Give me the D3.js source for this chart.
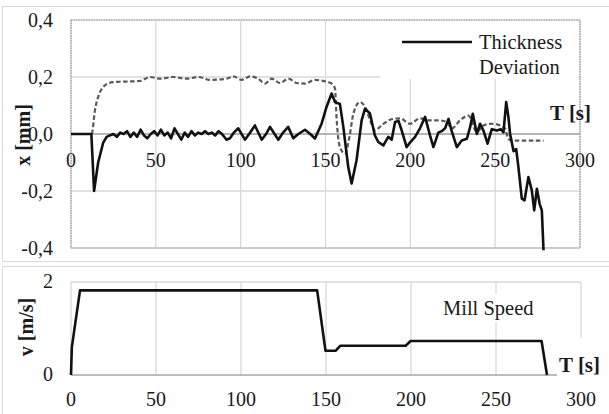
<!DOCTYPE html>
<html>
<head>
	<meta charset="utf-8">
	<title>Thickness Deviation and Mill Speed</title>
	<style type="text/css">
		body{ margin:0; background:#fff; }
		svg text{ font-family:'Liberation Serif', 'Times New Roman', 'DejaVu Serif', serif; fill:#1a1a1a; }
	</style>
</head>
<body>
	<svg width=609 height=414 class="chart"></svg>
	<script type="text/javascript" src="https://cdn.jsdelivr.net/npm/d3@7/dist/d3.min.js"></script>
	<script type="text/javascript">

		// thickness deviation (solid)
		devTime = [0, 12, 13.6, 16, 19, 21, 23, 25, 27, 29, 31, 33, 35, 37, 39, 41, 43, 45, 47, 49, 51, 53, 55, 57, 59, 61, 63, 65, 67, 69, 71, 73, 75, 77, 79, 81, 83, 85, 87, 89, 91.7, 93.7, 96, 98.6, 102.5, 105, 108.4, 112.4, 115, 117.3, 120, 122.2, 125, 128, 131, 134, 137.9, 141, 143.8, 147.7, 150.6, 153.6, 155.6, 158.5, 160.5, 163.4, 165.4, 168.3, 171.3, 173.3, 176.2, 179.1, 181.1, 184.1, 187, 189, 191, 193, 194.9, 197.8, 199.8, 202.8, 205.7, 208.7, 211.6, 213.6, 216.5, 218.5, 220.5, 222.5, 224.4, 227.4, 230.3, 233.3, 235.2, 236.8, 239.2, 241.1, 243.1, 245.5, 248, 251, 253.3, 254.9, 256.5, 257.8, 258.8, 260.8, 262.4, 263.7, 265.7, 267.3, 269.6, 271.6, 273, 274.6, 276.2, 277.5, 278.5]
		devValue = [0, 0, -0.2, -0.1, -0.03, -0.01, -0.005, 0, -0.01, 0.005, 0, 0.01, -0.01, 0.005, -0.01, 0.015, -0.005, -0.015, 0, 0.01, -0.005, 0.015, -0.005, 0.005, -0.015, 0.02, 0, -0.02, 0.005, -0.01, 0.01, -0.005, 0.005, 0, 0.01, 0, 0.005, -0.005, 0.01, 0, -0.02, -0.015, 0.005, 0.02, -0.02, 0, 0.03, -0.02, 0, 0.025, 0, -0.02, 0.005, 0.025, -0.015, 0, 0.015, 0, -0.016, 0.036, 0.095, 0.142, 0.112, 0.105, 0.025, -0.116, -0.174, -0.092, 0.048, 0.089, 0.072, -0.005, -0.028, -0.04, -0.01, -0.02, 0.042, 0.046, 0.013, -0.046, -0.03, -0.01, 0.02, 0.06, -0.005, -0.046, 0.005, 0.01, 0.02, 0.053, 0.01, -0.046, -0.023, -0.017, 0.023, 0.071, 0, 0.036, 0.012, -0.034, 0.017, 0.012, 0.017, 0.006, 0.112, 0.06, 0, -0.06, -0.053, -0.116, -0.227, -0.233, -0.151, -0.198, -0.268, -0.192, -0.245, -0.268, -0.408]

		// second (dashed) curve
		refTime = [0, 12.2, 14.1, 17.1, 20, 24.9, 32.7, 40.6, 46.5, 52.4, 60.3, 68.1, 75, 81.9, 91.7, 95.7, 100.6, 105.5, 110.4, 114.4, 118.3, 123.2, 128.1, 133, 137.9, 143.8, 146.7, 153.6, 155.6, 156.6, 158.5, 161.5, 164.4, 166.4, 170.3, 173.3, 176.2, 179.1, 183, 188, 194, 199.8, 205.7, 210.6, 216.5, 221.5, 224.4, 229.3, 234.2, 239.2, 243.1, 248, 252.9, 255.9, 257.8, 260.8, 278.5]
		refValue = [0, 0, 0.083, 0.147, 0.171, 0.182, 0.184, 0.186, 0.2, 0.194, 0.2, 0.194, 0.2, 0.19, 0.194, 0.202, 0.19, 0.202, 0.194, 0.177, 0.194, 0.179, 0.194, 0.179, 0.177, 0.19, 0.188, 0.177, 0.159, 0.048, -0.046, -0.069, 0, 0.071, 0.112, 0.095, 0.05, 0.013, 0.03, 0.05, 0.055, 0.036, 0.055, 0.048, 0.048, 0.042, 0.019, 0.048, 0.065, 0.007, 0.03, 0.036, 0.03, 0.019, -0.018, -0.023, -0.023]

		// mill speed
		speedTime = [0, 0.5, 5.3, 144.8, 149.7, 155.6, 158.5, 196.8, 199.8, 276.8, 280]
		speedValue = [0, 0.6, 1.82, 1.82, 0.52, 0.52, 0.63, 0.63, 0.73, 0.73, 0]

		timeTicks = [0, 50, 100, 150, 200, 250, 300]
		devTicks = [-0.4, -0.2, 0, 0.2, 0.4]
		speedTicks = [0, 2]

		serif = "'Liberation Serif', 'Times New Roman', 'DejaVu Serif', serif"
		svg = d3.select('.chart').attr('font-family', serif)
		comma = function(d) { return (d < 0 ? '-' : '') + d3.format('.1f')(Math.abs(d)).replace('.', ',') }

		// outer frames
		svg.append('rect').attr('x', 2.5).attr('y', 6.5).attr('width', 620).attr('height', 255)
			.attr('fill', 'none').attr('stroke', '#d9d9d9')
		svg.append('rect').attr('x', 2.5).attr('y', 266.5).attr('width', 620).attr('height', 160)
			.attr('fill', 'none').attr('stroke', '#d9d9d9')

		// ---------- top chart ----------
		x1 = d3.scaleLinear().domain([0, 300]).range([71, 580])
		y1 = d3.scaleLinear().domain([-0.4, 0.4]).range([248, 20])

		top_g = svg.append('g')

		top_g.append('g').selectAll('line').data(timeTicks).enter().append('line')
			.attr('x1', function(d) {return x1(d)}).attr('x2', function(d) {return x1(d)})
			.attr('y1', y1(0.4)).attr('y2', y1(-0.4))
			.attr('stroke', '#d9d9d9').attr('stroke-width', 1.3)
		top_g.append('g').selectAll('line').data(devTicks).enter().append('line')
			.attr('x1', x1(0)).attr('x2', x1(300))
			.attr('y1', function(d) {return y1(d)}).attr('y2', function(d) {return y1(d)})
			.attr('stroke', '#d9d9d9').attr('stroke-width', 1.3)

		// legend box hides grid behind it
		top_g.append('rect').attr('x', 380).attr('y', 21).attr('width', 198).attr('height', 58).attr('fill', '#fff')

		top_g.append('line').attr('x1', x1(0)).attr('x2', x1(300)).attr('y1', y1(0)).attr('y2', y1(0))
			.attr('stroke', '#a6a6a6').attr('stroke-width', 1.3)

		top_g.append('rect').attr('x', x1(0)).attr('y', y1(0.4))
			.attr('width', x1(300) - x1(0)).attr('height', y1(-0.4) - y1(0.4))
			.attr('fill', 'none').attr('stroke', '#9a9a9a').attr('stroke-width', 1.2).attr('stroke-dasharray', '1.5,1')

		top_g.append('g').selectAll('text').data(devTicks).enter().append('text')
			.attr('x', 53).attr('y', function(d) {return y1(d) + 7})
			.attr('text-anchor', 'end').attr('font-size', 20)
			.text(comma)
		top_g.append('g').selectAll('text').data(timeTicks).enter().append('text')
			.attr('x', function(d) {return x1(d)}).attr('y', 167)
			.attr('text-anchor', 'middle').attr('font-size', 20)
			.text(function(d) {return d})

		lineTop = d3.line().x(function(d) {return x1(d[0])}).y(function(d) {return y1(d[1])})

		top_g.append('path').datum(d3.zip(refTime, refValue))
			.attr('d', lineTop.curve(d3.curveMonotoneX))
			.attr('fill', 'none').attr('stroke', '#595959').attr('stroke-width', 2.2).attr('stroke-dasharray', '4.5,2.5')
		top_g.append('path').datum(d3.zip(devTime, devValue))
			.attr('d', lineTop.curve(d3.curveLinear))
			.attr('fill', 'none').attr('stroke', '#111').attr('stroke-width', 2.6).attr('stroke-linejoin', 'round')

		top_g.append('line').attr('x1', 402).attr('x2', 472).attr('y1', 42).attr('y2', 42)
			.attr('stroke', '#111').attr('stroke-width', 2.6)
		top_g.append('text').attr('x', 479).attr('y', 49).attr('font-size', 20.5).text('Thickness')
		top_g.append('text').attr('x', 479).attr('y', 74).attr('font-size', 20.5).text('Deviation')

		top_g.append('text').attr('x', 550).attr('y', 120).attr('font-size', 21).attr('font-weight', 'bold').text('T [s]')
		top_g.append('text').attr('transform', 'translate(30,135) rotate(-90)')
			.attr('text-anchor', 'middle').attr('font-size', 20).attr('font-weight', 'bold').text('x [mm]')

		// ---------- bottom chart ----------
		x2 = d3.scaleLinear().domain([0, 300]).range([71, 581])
		y2 = d3.scaleLinear().domain([0, 2]).range([375, 282])

		bot_g = svg.append('g')

		bot_g.append('g').selectAll('line').data(timeTicks).enter().append('line')
			.attr('x1', function(d) {return x2(d)}).attr('x2', function(d) {return x2(d)})
			.attr('y1', y2(2)).attr('y2', y2(0))
			.attr('stroke', '#d9d9d9').attr('stroke-width', 1.3)
		bot_g.append('line').attr('x1', x2(0)).attr('x2', x2(300)).attr('y1', y2(2)).attr('y2', y2(2))
			.attr('stroke', '#d9d9d9').attr('stroke-width', 1.3)

		bot_g.append('rect').attr('x', 440).attr('y', 294).attr('width', 98).attr('height', 28).attr('fill', '#fff')
		bot_g.append('rect').attr('x', 557).attr('y', 338).attr('width', 50).attr('height', 40).attr('fill', '#fff')

		bot_g.append('line').attr('x1', x2(0)).attr('x2', 557).attr('y1', y2(0)).attr('y2', y2(0))
			.attr('stroke', '#a6a6a6').attr('stroke-width', 1.3)

		bot_g.append('g').selectAll('text').data(speedTicks).enter().append('text')
			.attr('x', 53).attr('y', function(d) {return y2(d) + 6})
			.attr('text-anchor', 'end').attr('font-size', 20)
			.text(function(d) {return d})
		bot_g.append('g').selectAll('text').data(timeTicks).enter().append('text')
			.attr('x', function(d) {return x2(d)}).attr('y', 406)
			.attr('text-anchor', 'middle').attr('font-size', 20)
			.text(function(d) {return d})

		lineBot = d3.line().x(function(d) {return x2(d[0])}).y(function(d) {return y2(d[1])})
		bot_g.append('path').datum(d3.zip(speedTime, speedValue))
			.attr('d', lineBot)
			.attr('fill', 'none').attr('stroke', '#111').attr('stroke-width', 2.6).attr('stroke-linejoin', 'round')

		bot_g.append('text').attr('x', 443).attr('y', 315).attr('font-size', 20.5).text('Mill Speed')
		bot_g.append('text').attr('x', 559).attr('y', 372).attr('font-size', 21).attr('font-weight', 'bold').text('T [s]')
		bot_g.append('text').attr('transform', 'translate(33,327) rotate(-90)')
			.attr('text-anchor', 'middle').attr('font-size', 20).attr('font-weight', 'bold').text('v [m/s]')

	</script>
</body>
</html>
